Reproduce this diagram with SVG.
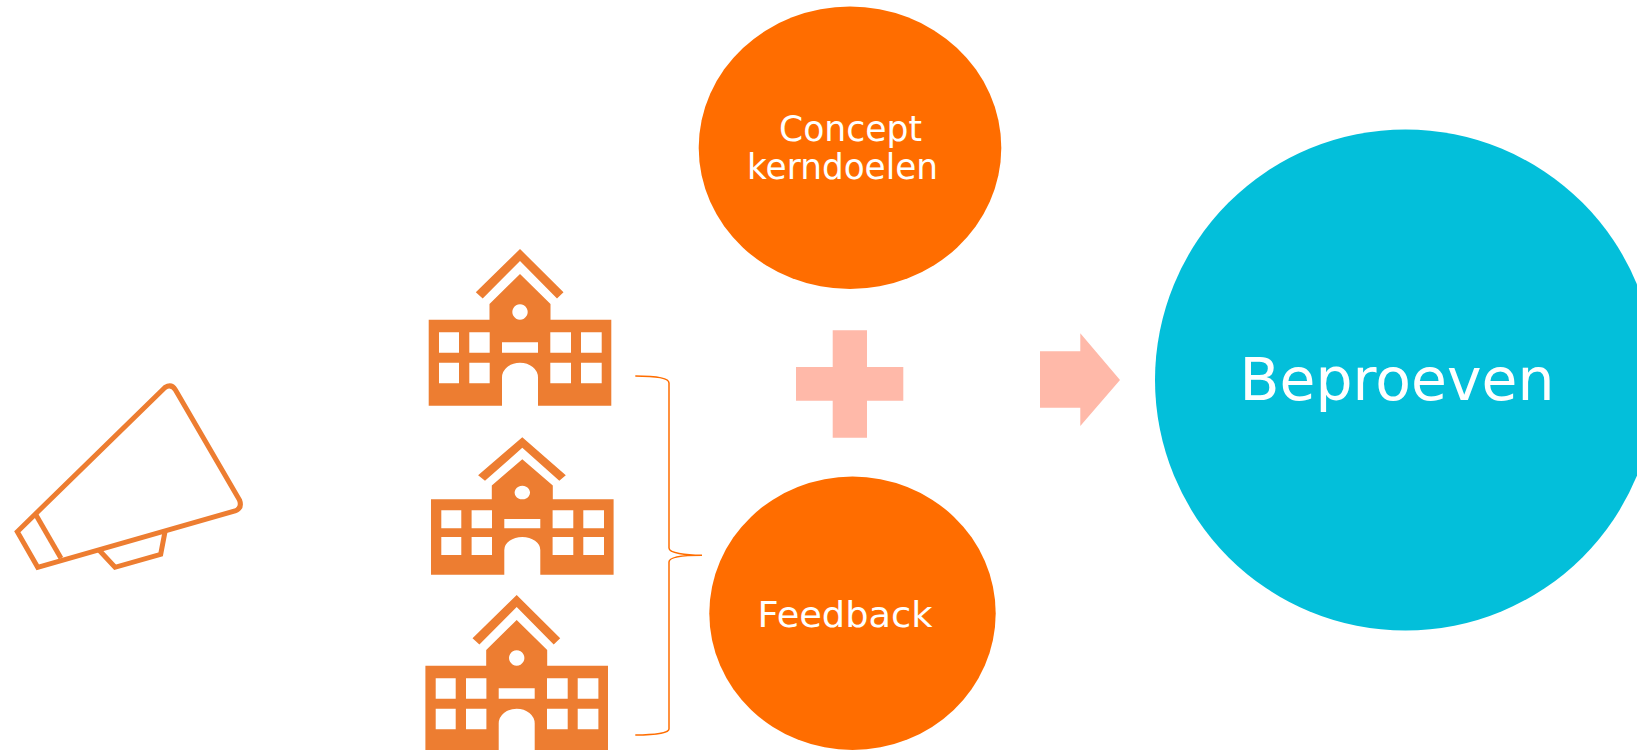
<svg xmlns="http://www.w3.org/2000/svg" width="1637" height="750" viewBox="0 0 1637 750">
<style>
.school{fill:#ED7D31;fill-rule:evenodd}
.mega{fill:none;stroke:#ED7D31;stroke-width:5;stroke-linejoin:miter}
.brace{fill:none;stroke:#FF6D00;stroke-width:1.5}
.sym{fill:#FFB9A9}
.orange{fill:#FF6D00}
.blue{fill:#03BFDA}
text{font-family:"DejaVu Sans",Verdana,sans-serif;fill:#fff;text-anchor:start}
.t1{font-size:35.5px}
.t2{font-size:58.5px}
</style>
<defs>
<path id="school" d="M0 0L43.5 43.3L37 49.5L0 12L-37.3 49.5L-44.2 43.3ZM0 25L30.5 55V70.7H91.3V156.7H18V128.5A18 14.8 0 0 0 -18 128.5V156.7H-91.3V70.7H-30.5V55ZM0 55.3A7.7 7.7 0 1 0 0.01 55.3ZM-81 83.3V103.7H-61V83.3ZM-50.7 83.3V103.7H-30.3V83.3ZM30.3 83.3V103.7H51V83.3ZM61 83.3V103.7H81.7V83.3ZM-18 93.3V103.7H18V93.3ZM-81 113.7V134.3H-61V113.7ZM-50.7 113.7V134.3H-30.3V113.7ZM30.3 113.7V134.3H51V113.7ZM61 113.7V134.3H81.7V113.7Z"/>
</defs>
<rect width="1637" height="750" fill="#fff"/>
<g id="megaphone" class="mega">
<path d="M17.3 531.7L165 387.5Q171.5 383.5 175.5 390L239.5 500Q242.5 508 235 511L37.7 567.3Z"/>
<path d="M36 515L61 558.3"/>
<path d="M99 550L115 567.3L160.7 554.3L165 531.7"/>
</g>
<g id="school-1"><use href="#school" class="school" transform="translate(520 249)"/></g>
<g id="school-2"><use href="#school" class="school" transform="translate(522.3 437.3) scale(1 .877)"/></g>
<g id="school-3"><use href="#school" class="school" transform="translate(516.7 595)"/></g>
<g id="connectors">
<path class="brace" d="M635.3 376C655 376 669 378 669 383V548C669 553 685 555.3 702 555.3C685 555.3 669 557 669 562V729C669 733 655 735 635.3 735"/>
</g>
<g id="concept">
<ellipse class="orange" cx="850" cy="147.8" rx="151.3" ry="141.2"/>
<text class="t1" x="779" y="141" textLength="143" lengthAdjust="spacingAndGlyphs">Concept</text>
<text class="t1" x="747" y="179.3" textLength="191" lengthAdjust="spacingAndGlyphs">kerndoelen</text>
</g>
<g id="plus"><path class="sym" d="M832.7 330.3H867V367H903.3V400.7H867V437.7H832.7V400.7H796V367H832.7Z"/></g>
<g id="feedback">
<ellipse class="orange" cx="852.5" cy="613.3" rx="143.2" ry="136.7"/>
<text class="t1" x="757.5" y="626.7" textLength="175" lengthAdjust="spacingAndGlyphs">Feedback</text>
</g>
<g id="arrow"><path class="sym" d="M1040 351.3H1080.3V333.3L1120 380L1080.3 426V407.7H1040Z"/></g>
<g id="beproeven">
<circle class="blue" cx="1405.5" cy="380" r="250.5"/>
<text class="t2" x="1239.5" y="400" textLength="315" lengthAdjust="spacingAndGlyphs">Beproeven</text>
</g>
</svg>
